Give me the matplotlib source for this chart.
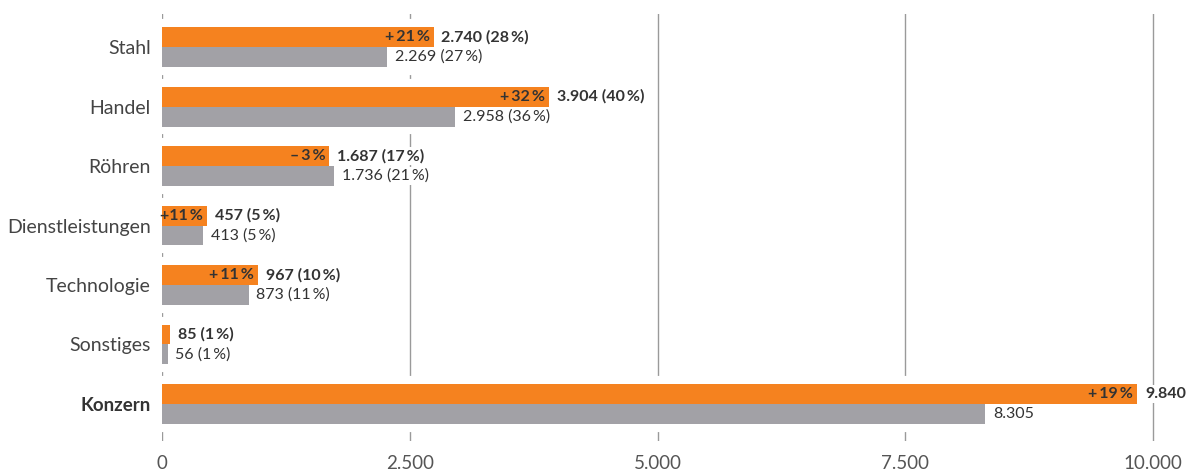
import matplotlib.pyplot as plt

# Segments, current and previous year values (Mio EUR)
segments = ['Stahl', 'Handel', 'Röhren', 'Dienstleistungen', 'Technologie', 'Sonstiges', 'Konzern']
current = [2740, 3904, 1687, 457, 967, 85, 9840]
previous = [2269, 2958, 1736, 413, 873, 56, 8305]
share_current = ['28', '40', '17', '5', '10', '1', None]
share_previous = ['27', '36', '21', '5', '11', '1', None]
growth = ['+\u200921', '+\u200932', '\u2013\u20093', '+11', '+\u200911', None, '+\u200919']
x_ticks = [0, 2500, 5000, 7500, 10000]
x_tick_labels = ['0', '2.500', '5.000', '7.500', '10.000']

ORANGE = '#F5821F'
GREY = '#A2A1A6'
DARK = '#333333'

plt.rcParams['font.family'] = ['Lato', 'DejaVu Sans']


def fmt(v):
    return '{:,}'.format(v).replace(',', '.')


fig = plt.figure(figsize=(11.91, 4.74), dpi=100)
ax = fig.add_axes([162 / 1191, 33 / 474, 1019 / 1191, 427 / 474])

h = 0.336
pad = 0.1
for xt in x_ticks:
    ax.axvline(xt, color='#9a9a9a', lw=1, zorder=0)

for i, name in enumerate(segments):
    top = max(current[i], previous[i])
    # white backing so the grid is cut around each bar pair
    ax.barh(i, top, height=2 * h + 2 * pad, color='white', edgecolor='white',
            lw=3, zorder=1)
    ax.barh(i - h / 2, current[i], height=h, color=ORANGE, zorder=2)
    ax.barh(i + h / 2, previous[i], height=h, color=GREY, zorder=2)

    lab = fmt(current[i])
    if share_current[i]:
        lab += ' ({}\u2009%)'.format(share_current[i])
    ax.text(current[i] + 80, i - h / 2, lab, va='center', ha='left',
            fontsize=11.5, fontweight='bold', color=DARK, zorder=4,
            bbox=dict(facecolor='white', edgecolor='none', pad=1.5))

    lab = fmt(previous[i])
    if share_previous[i]:
        lab += ' ({}\u2009%)'.format(share_previous[i])
    ax.text(previous[i] + 80, i + h / 2, lab, va='center', ha='left',
            fontsize=11.5, color=DARK, zorder=4,
            bbox=dict(facecolor='white', edgecolor='none', pad=1.5))

    if growth[i]:
        ax.text(current[i] - 40, i - h / 2, growth[i] + '\u2009%', va='center',
                ha='right', fontsize=11.5, fontweight='bold', color=DARK, zorder=4)

ax.set_xlim(0, 10282)
ax.set_ylim(6.622, -0.555)
ax.set_yticks(range(len(segments)))
ax.set_yticklabels(segments, fontsize=14, color='#444444')
ax.get_yticklabels()[-1].set_fontweight('bold')
ax.get_yticklabels()[-1].set_fontsize(13.5)
ax.get_yticklabels()[-1].set_color(DARK)
ax.set_xticks(x_ticks)
ax.set_xticklabels(x_tick_labels, fontsize=13.5, color='#555555')
ax.tick_params(axis='x', length=0, pad=10)
ax.tick_params(axis='y', length=0, pad=8)
for s in ax.spines.values():
    s.set_visible(False)

fig.savefig('out.png', dpi=100)
